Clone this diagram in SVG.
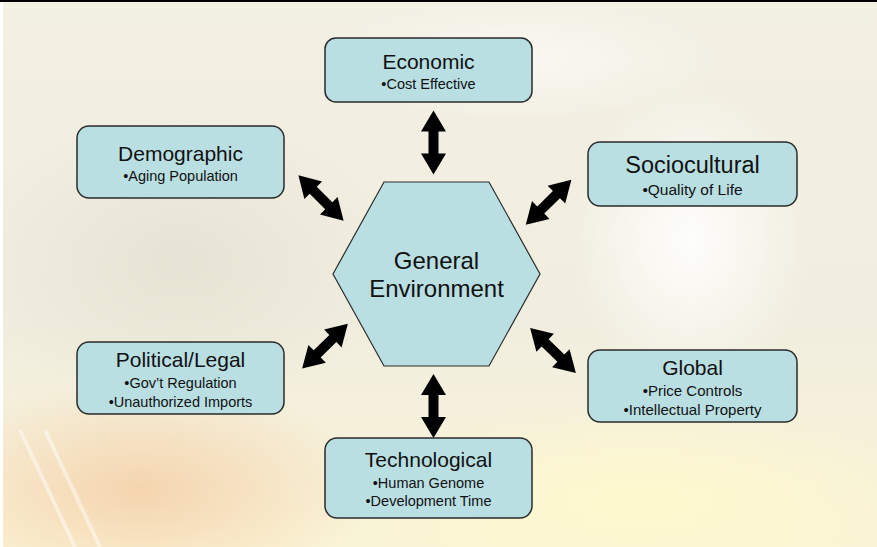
<svg xmlns="http://www.w3.org/2000/svg" width="877" height="547" viewBox="0 0 877 547">
<defs>
<style>
.box{fill:#B9DFE3;stroke:#2b2b2b;stroke-width:1.5}
.hex{fill:#B9DFE3;stroke:#2b2b2b;stroke-width:1.2}
.t{font-family:"Liberation Sans",Arial,sans-serif;fill:#111;text-anchor:middle}
.h{font-size:21px}
.s{font-size:14.5px}
.arr{fill:#000}
</style>
<linearGradient id="bg" x1="0" y1="0" x2="0" y2="1">
<stop offset="0" stop-color="#F3F0E4"/>
<stop offset="0.6" stop-color="#F1EEDF"/>
<stop offset="1" stop-color="#FAF4D6"/>
</linearGradient>
<radialGradient id="peach" cx="0.5" cy="0.5" r="0.5">
<stop offset="0" stop-color="#F4CDA4" stop-opacity="0.8"/>
<stop offset="1" stop-color="#F4CDA4" stop-opacity="0"/>
</radialGradient>
<radialGradient id="yel" cx="0.5" cy="0.5" r="0.5">
<stop offset="0" stop-color="#FFF9CC" stop-opacity="0.95"/>
<stop offset="1" stop-color="#FFF9CC" stop-opacity="0"/>
</radialGradient>
<radialGradient id="wht" cx="0.5" cy="0.5" r="0.5">
<stop offset="0" stop-color="#FFFFFF" stop-opacity="0.9"/>
<stop offset="1" stop-color="#FFFFFF" stop-opacity="0"/>
</radialGradient>
<radialGradient id="gry" cx="0.5" cy="0.5" r="0.5">
<stop offset="0" stop-color="#DCD8C8" stop-opacity="0.5"/>
<stop offset="1" stop-color="#DCD8C8" stop-opacity="0"/>
</radialGradient>
<path id="dbl" d="M -32 0 L -11 -12.5 L -11 -5 L 11 -5 L 11 -12.5 L 32 0 L 11 12.5 L 11 5 L -11 5 L -11 12.5 Z"/>
</defs>

<g id="background">
<rect x="0" y="0" width="877" height="547" fill="url(#bg)"/>
<ellipse cx="180" cy="260" rx="220" ry="150" fill="url(#gry)"/>
<ellipse cx="140" cy="490" rx="230" ry="110" fill="url(#peach)"/>
<ellipse cx="640" cy="500" rx="300" ry="100" fill="url(#yel)"/>
<ellipse cx="690" cy="240" rx="120" ry="150" fill="url(#wht)"/>
<ellipse cx="520" cy="60" rx="200" ry="60" fill="url(#wht)" opacity="0.6"/>
<path d="M 20 430 L 75 547 M 45 430 L 100 547" stroke="#FFFFFF" stroke-width="4" stroke-opacity="0.45" fill="none"/>
<rect x="0" y="0" width="877" height="2" fill="#000"/>
<rect x="0" y="2" width="3" height="545" fill="#fff"/>
</g>

<g id="connectors">
<use href="#dbl" class="arr" transform="translate(433.5,142.5) rotate(90)"/>
<use href="#dbl" class="arr" transform="translate(433.5,406) rotate(90)"/>
<use href="#dbl" class="arr" transform="translate(321,198) rotate(45)"/>
<use href="#dbl" class="arr" transform="translate(548.6,202.3) rotate(-44.6)"/>
<use href="#dbl" class="arr" transform="translate(325,346.2) rotate(-44.4)"/>
<use href="#dbl" class="arr" transform="translate(553,350.5) rotate(44.4)"/>
</g>

<g id="general">
<polygon class="hex" points="333,274 384,182 489,182 540,274 489,366 384,366"/>
<text class="t" x="436.5" y="269" font-size="24">General</text>
<text class="t" x="436.5" y="297" font-size="24">Environment</text>
</g>

<g id="economic">
<rect class="box" x="325" y="38" width="207" height="64" rx="11"/>
<text class="t h" x="428.5" y="69">Economic</text>
<text class="t s" x="428.5" y="89">•Cost Effective</text>
</g>

<g id="demographic">
<rect class="box" x="77" y="126" width="207" height="72" rx="12"/>
<text class="t h" x="180.5" y="161">Demographic</text>
<text class="t s" x="180.5" y="181">•Aging Population</text>
</g>

<g id="sociocultural">
<rect class="box" x="588" y="142" width="209" height="64" rx="12"/>
<text class="t" x="692.5" y="173" font-size="23.5">Sociocultural</text>
<text class="t" x="692.5" y="195" font-size="15.5">•Quality of Life</text>
</g>

<g id="political">
<rect class="box" x="77" y="342" width="207" height="72" rx="12"/>
<text class="t h" x="180.5" y="367">Political/Legal</text>
<text class="t s" x="180.5" y="388">•Gov’t Regulation</text>
<text class="t s" x="180.5" y="407">•Unauthorized Imports</text>
</g>

<g id="global">
<rect class="box" x="588" y="350" width="209" height="72" rx="12"/>
<text class="t h" x="692.5" y="375">Global</text>
<text class="t" x="692.5" y="396" font-size="15">•Price Controls</text>
<text class="t" x="692.5" y="415" font-size="15">•Intellectual Property</text>
</g>

<g id="technological">
<rect class="box" x="325" y="438" width="207" height="80" rx="12"/>
<text class="t h" x="428.5" y="467">Technological</text>
<text class="t s" x="428.5" y="488">•Human Genome</text>
<text class="t s" x="428.5" y="506">•Development Time</text>
</g>
</svg>
